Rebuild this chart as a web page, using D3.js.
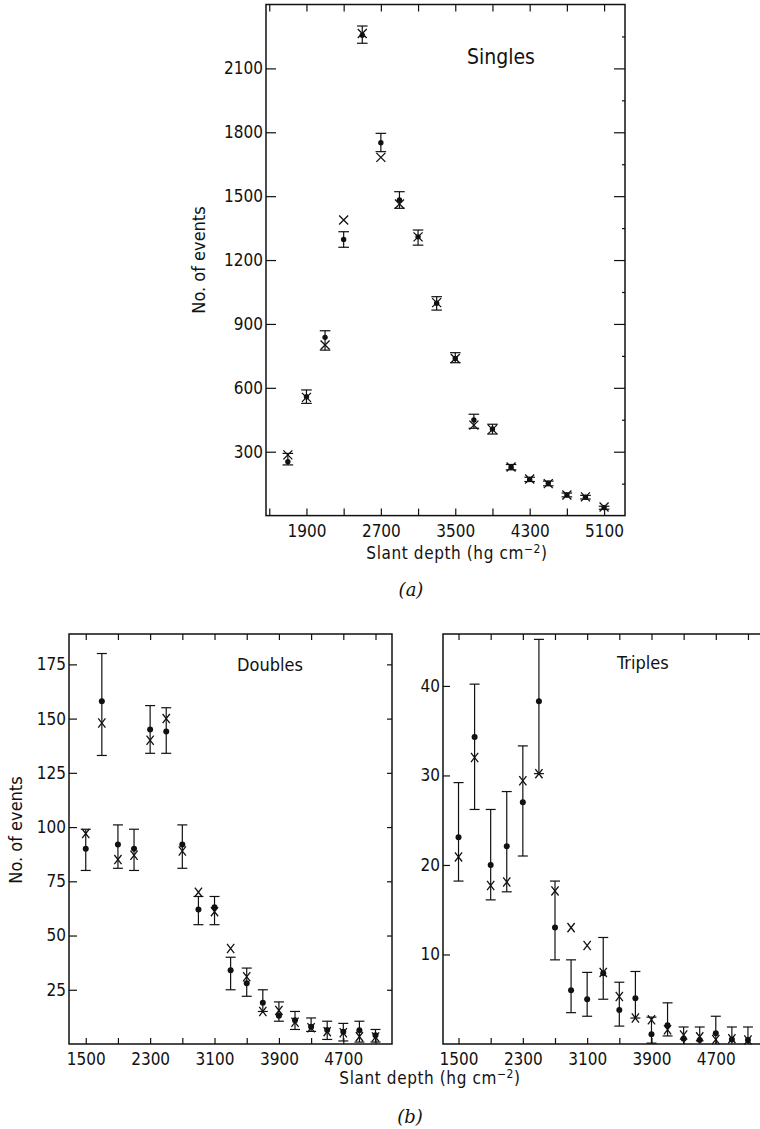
<!DOCTYPE html>
<html>
<head>
<meta charset="UTF-8">
<title>Slant depth distributions</title>
<script src="https://d3js.org/d3.v7.min.js"></script>
<style>
    body { margin: 0; background: #fff; }
    svg { display: block; }
    text { font-family: "DejaVu Sans Condensed", "DejaVu Sans", sans-serif; fill: #111; }
    .frame { fill: none; stroke: #111; stroke-width: 1.5; }
    .tick line { stroke: #111; stroke-width: 1.2; }
    .tick text { font-size: 17px; }
    .bar { stroke: #111; stroke-width: 1.2; fill: none; }
    .cross { stroke: #111; stroke-width: 1.3; fill: none; }
    .dot { fill: #111; }
</style>
</head>
<body>
<svg id="chart" width="760" height="1129"></svg>
<script>
// ---- data ----
// (a) singles
const singlesDepth = [1700, 1900, 2100, 2300, 2500, 2700, 2900, 3100, 3300, 3500, 3700, 3900, 4100, 4300, 4500, 4700, 4900, 5100];
const singlesObs   = [253, 558, 837, 1297, 2256, 1751, 1482, 1309, 997, 738, 449, 407, 227, 170, 152, 97, 86, 37];
const singlesCalc  = [285, 555, 801, 1388, 2264, 1682, 1463, 1309, 1000, 738, 425, 405, 228, 172, 150, 97, 88, 40];
const singlesHi    = [292, 590, 868, 1333, 2299, 1795, 1521, 1341, 1028, 765, 476, 429, 240, 180, 162, 106, 95, 44];
const singlesLo    = [238, 527, 777, 1260, 2218, 1709, 1443, 1270, 965, 718, 410, 383, 215, 160, 140, 88, 78, 30];

// (b) doubles and triples share the depth bins
const depthB = [1500, 1700, 1900, 2100, 2300, 2500, 2700, 2900, 3100, 3300, 3500, 3700, 3900, 4100, 4300, 4500, 4700, 4900, 5100];

const doublesObs  = [90, 158, 92, 90, 145, 144, 92, 62, 63, 34, 28, 19, 13, 11, 8, 6.4, 5.7, 6.3, 4];
const doublesCalc = [97, 148, 85, 87, 140, 150, 89, 70, 61, 44, 31, 15, 15.5, 10, 7.5, 5.7, 5.2, 3.4, 3.2];
const doublesHi   = [99, 180, 101, 99, 156, 155, 101, 68, 68, 40, 35, 25, 19.4, 15, 12, 10.5, 9.5, 10.5, 6.7];
const doublesLo   = [80, 133, 81, 80, 134, 134, 81, 55, 55, 25, 22, 15, 10.5, 6.7, 5.8, 2.1, 1.4, 0.9, 0.9];

const triplesObs  = [23.1, 34.3, 20.0, 22.1, 27.0, 38.3, 13.0, 6.0, 5.0, 7.9, 3.8, 5.1, 1.1, 2.1, 0.6, 0.45, 1.2, 0.5, 0.45];
const triplesCalc = [20.9, 32.0, 17.7, 18.1, 29.4, 30.2, 17.1, 13.0, 11.0, 8.0, 5.3, 2.9, 2.7, 1.6, 1.0, 0.8, 0.5, 0.6, 0.45];
const triplesHi   = [29.2, 40.2, 26.2, 28.2, 33.3, 45.2, 18.2, 9.4, 8.0, 11.9, 6.9, 8.1, 3.0, 4.6, 1.9, 1.9, 3.1, 1.9, 1.9];
const triplesLo   = [18.2, 26.2, 16.1, 17.0, 21.0, 30.2, 9.4, 3.5, 3.1, 5.0, 2.0, 2.9, 0.1, 0.9, 0, 0, 0, 0, 0];

// ticks
const xTicks = [1500, 1900, 2300, 2700, 3100, 3500, 3900, 4300, 4700, 5100];
const xLabelsA = [1900, 2700, 3500, 4300, 5100];
const xLabelsB = [1500, 2300, 3100, 3900, 4700];
const yTicksA = [300, 600, 900, 1200, 1500, 1800, 2100];
const yMinorA = [150, 450, 750, 1050, 1350, 1650, 1950, 2250];
const yTicksD = [25, 50, 75, 100, 125, 150, 175];
const yTicksT = [10, 20, 30, 40];

const svg = d3.select('#chart');

function drawPanel(p) {
    const x = d3.scaleLinear().domain(p.xDomain).range([p.left, p.right]);
    const y = d3.scaleLinear().domain(p.yDomain).range([p.bottom, p.top]);
    const g = svg.append('g');

    // frame
    g.append('rect').attr('class', 'frame')
        .attr('x', p.left).attr('y', p.top)
        .attr('width', p.right - p.left).attr('height', p.bottom - p.top);

    // axes, ticks pointing inward
    const bottomAxis = g.append('g')
        .attr('transform', `translate(0,${p.bottom})`)
        .call(d3.axisBottom(x).tickValues(xTicks).tickSize(-p.xTick).tickPadding(5)
            .tickFormat(d => p.xLabels.includes(d) ? String(d) : ''));
    g.append('g')
        .attr('transform', `translate(0,${p.top})`)
        .call(d3.axisTop(x).tickValues(xTicks).tickSize(-p.xTick).tickFormat(''));
    g.append('g')
        .attr('transform', `translate(${p.left},0)`)
        .call(d3.axisLeft(y).tickValues(p.yTicks).tickSize(-p.yTick).tickPadding(3)
            .tickFormat(d => String(d)));
    g.append('g')
        .attr('transform', `translate(${p.right},0)`)
        .call(d3.axisRight(y).tickValues(p.yTicks).tickSize(-p.yTickR).tickFormat(''));
    if (p.yMinor) {
        g.append('g')
            .attr('transform', `translate(${p.right},0)`)
            .call(d3.axisRight(y).tickValues(p.yMinor).tickSize(-3).tickFormat(''));
    }
    g.selectAll('.domain').remove();
    g.selectAll('.tick text').attr('font-family', null).style('font-size', '17px');
    bottomAxis.selectAll('.tick text').attr('dy', '0.95em');

    // error bars
    const rows = p.depth.map((d, i) => ({ d, obs: p.obs[i], calc: p.calc[i], hi: p.hi[i], lo: p.lo[i] }));
    const cap = p.cap;
    const bars = g.append('g').selectAll('g').data(rows).join('g');
    bars.append('line').attr('class', 'bar')
        .attr('x1', r => x(r.d)).attr('x2', r => x(r.d))
        .attr('y1', r => y(r.hi)).attr('y2', r => y(r.lo));
    bars.append('line').attr('class', 'bar')
        .attr('x1', r => x(r.d) - cap).attr('x2', r => x(r.d) + cap)
        .attr('y1', r => y(r.hi)).attr('y2', r => y(r.hi));
    bars.append('line').attr('class', 'bar')
        .filter(r => r.lo > 0)
        .attr('x1', r => x(r.d) - cap).attr('x2', r => x(r.d) + cap)
        .attr('y1', r => y(r.lo)).attr('y2', r => y(r.lo));

    // observed: filled dots
    g.append('g').selectAll('circle').data(rows).join('circle')
        .attr('class', 'dot')
        .attr('cx', r => x(r.d)).attr('cy', r => y(r.obs)).attr('r', p.dotR);

    // expected: crosses
    const cw = p.crossW, ch = p.crossH;
    g.append('g').selectAll('path').data(rows).join('path')
        .attr('class', 'cross')
        .attr('d', r => {
            const cx = x(r.d), cy = y(r.calc);
            return `M${cx - cw},${cy - ch}L${cx + cw},${cy + ch}M${cx - cw},${cy + ch}L${cx + cw},${cy - ch}`;
        });

    // titles
    g.append('text')
        .attr('x', p.titleX).attr('y', p.titleY)
        .style('font-size', p.titleSize + 'px')
        .text(p.title);

    if (p.yLabelX) {
        g.append('text')
            .attr('transform', `translate(${p.yLabelX},${p.yLabelY}) rotate(-90)`)
            .attr('text-anchor', 'middle')
            .style('font-size', '18px')
            .text('No. of events');
    }
    return g;
}

function slantLabel(cx, cy) {
    const t = svg.append('text')
        .attr('x', cx).attr('y', cy)
        .attr('text-anchor', 'middle')
        .style('font-size', '17px')
        .style('letter-spacing', '0.6px');
    t.append('tspan').text('Slant depth (hg cm');
    t.append('tspan').attr('dy', -6).style('font-size', '12px').text('\u22122');
    t.append('tspan').attr('dy', 6).text(')');
}

function panelTag(cx, cy, s) {
    svg.append('text')
        .attr('x', cx).attr('y', cy)
        .attr('text-anchor', 'middle')
        .style('font-size', '18px')
        .style('font-style', 'italic')
        .style('font-family', '"DejaVu Serif", serif')
        .text(s);
}

// (a) Singles
drawPanel({
    left: 266, right: 625, top: 4.5, bottom: 515.6,
    xDomain: [1465, 5325], yDomain: [0, 2400],
    xLabels: xLabelsA, yTicks: yTicksA, yMinor: yMinorA,
    xTick: 7, yTick: 10, yTickR: 11,
    depth: singlesDepth, obs: singlesObs, calc: singlesCalc, hi: singlesHi, lo: singlesLo,
    cap: 5.3, dotR: 2.7, crossW: 4.5, crossH: 4.5,
    title: 'Singles', titleX: 467, titleY: 64, titleSize: 21,
    yLabelX: 205, yLabelY: 260
});
slantLabel(457, 559);
panelTag(411, 596, '(a)');

// (b) Doubles
drawPanel({
    left: 69, right: 392, top: 634, bottom: 1044,
    xDomain: [1292, 5305], yDomain: [0, 189],
    xLabels: xLabelsB, yTicks: yTicksD,
    xTick: 6, yTick: 8, yTickR: 5,
    depth: depthB, obs: doublesObs, calc: doublesCalc, hi: doublesHi, lo: doublesLo,
    cap: 5, dotR: 3, crossW: 3.6, crossH: 4.6,
    title: 'Doubles', titleX: 237, titleY: 671, titleSize: 18,
    yLabelX: 22, yLabelY: 830
});

// (b) Triples
drawPanel({
    left: 443, right: 765, top: 634, bottom: 1044,
    xDomain: [1307, 5312], yDomain: [0, 45.8],
    xLabels: xLabelsB, yTicks: yTicksT,
    xTick: 6, yTick: 7, yTickR: 5,
    depth: depthB, obs: triplesObs, calc: triplesCalc, hi: triplesHi, lo: triplesLo,
    cap: 5, dotR: 3, crossW: 3.6, crossH: 4.6,
    title: 'Triples', titleX: 617, titleY: 669, titleSize: 18
});
slantLabel(430, 1084);
panelTag(410, 1123, '(b)');
</script>
</body>
</html>
